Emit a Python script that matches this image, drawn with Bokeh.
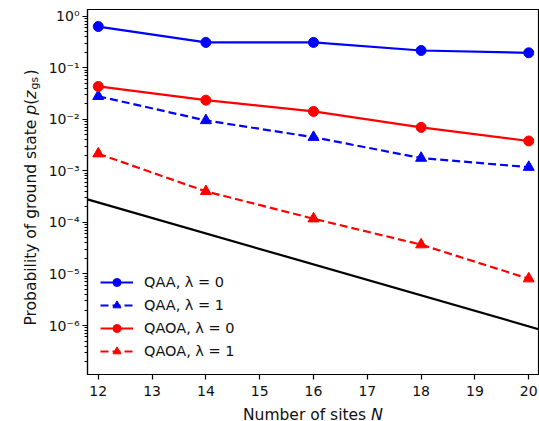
import math
from bokeh.plotting import figure
from bokeh.models import (Range1d, FixedTicker, Label, Legend, LegendItem,
                          CustomJSTickFormatter)
from bokeh.embed import file_html
from bokeh.resources import INLINE

# ---- data ----
sites = [12, 14, 16, 18, 20]
qaa_l0 = [0.63, 0.31, 0.31, 0.216, 0.195]
qaa_l1 = [0.028, 0.0095, 0.0045, 0.00177, 0.00118]
qaoa_l0 = [0.0434, 0.0235, 0.0142, 0.00697, 0.0038]
qaoa_l1 = [0.00215, 0.0004, 0.000118, 3.7e-5, 8.1e-6]
ref_sites = [11.8, 20.2]
ref_prob = [2.8e-4, 8.4e-7]
x_ticks = [12, 13, 14, 15, 16, 17, 18, 19, 20]
y_decades = [-6, -5, -4, -3, -2, -1, 0]
legend_labels = ["QAA, λ = 0", "QAA, λ = 1", "QAOA, λ = 0", "QAOA, λ = 1"]

FONT = "DejaVu Sans"
FS_TICK = 14
FS_LEG = 14.5
FS_T = 15.5

W_FIG, H_FIG = 539, 421
BL, BR, BT, BB = 87, 0, 9, 47
X0, X1 = 11.8, 20.2
LY0, LY1 = -6.95, 0.13

p = figure(width=W_FIG, height=H_FIG, y_axis_type="log",
           x_range=Range1d(X0, X1), y_range=Range1d(10 ** LY0, 10 ** LY1),
           output_backend="svg", toolbar_location=None,
           min_border_left=BL, min_border_right=BR, min_border_top=BT,
           min_border_bottom=BB)
p.background_fill_color = "white"
p.border_fill_color = "white"
p.grid.visible = False
p.outline_line_color = "black"
p.outline_line_width = 1.2

# axes
p.xaxis.ticker = FixedTicker(ticks=x_ticks)
major = [10.0 ** d for d in y_decades]
minor = [m * 10.0 ** d for d in range(-7, 1) for m in range(2, 10)]
p.yaxis.ticker = FixedTicker(ticks=major, minor_ticks=minor)
p.yaxis.formatter = CustomJSTickFormatter(code="""
const e = Math.round(Math.log10(tick));
const sup = {'-':'\u207B','0':'\u2070','1':'\u00B9','2':'\u00B2','3':'\u00B3','4':'\u2074','5':'\u2075','6':'\u2076','7':'\u2077','8':'\u2078','9':'\u2079'};
return '10' + String(e).split('').map(c => sup[c]).join('');
""")
for ax in (p.xaxis[0], p.yaxis[0]):
    ax.axis_line_color = "black"
    ax.axis_line_width = 1.2
    ax.major_tick_in = 0
    ax.major_tick_out = 5
    ax.minor_tick_in = 0
    ax.minor_tick_out = 3
    ax.major_tick_line_width = 1.2
    ax.major_label_text_font = FONT
    ax.major_label_text_font_size = f"{FS_TICK}px"
    ax.major_label_text_color = "#111111"
p.xaxis.major_label_standoff = 6
p.yaxis.major_label_standoff = 3
p.xaxis.minor_tick_line_color = None

# series
p.line(ref_sites, ref_prob, line_color="black", line_width=2.2)
series = [
    (qaa_l0, "blue", "solid", "circle", 10),
    (qaa_l1, "blue", "8 4", "triangle", 11),
    (qaoa_l0, "red", "solid", "circle", 10),
    (qaoa_l1, "red", "8 4", "triangle", 11),
]
items = []
for (vals, col, dash, mk, sz), lab in zip(series, legend_labels):
    rl = p.line(sites, vals, line_color=col, line_width=2.2, line_dash=dash)
    rs = p.scatter(sites, vals, marker=mk, size=sz, fill_color=col, line_color=col)
    items.append(LegendItem(label=lab, renderers=[rl, rs]))

legend = Legend(items=items, location=(13, 13))
legend.background_fill_alpha = 0
legend.border_line_color = None
legend.padding = 0
legend.margin = 0
legend.spacing = 3
legend.glyph_width = 33
legend.glyph_height = 20
legend.label_height = 20
legend.label_standoff = 11
legend.label_text_font = FONT
legend.label_text_font_size = f"{FS_LEG}px"
legend.label_text_color = "#111111"
p.add_layout(legend, "center")

# ---- axis titles: labels in the side panels, placed through the frame scales ----
FW = W_FIG - BL - BR
FH = H_FIG - BT - BB


def cx(px):  # canvas px -> data x
    return X0 + (px - BL) / FW * (X1 - X0)


def cy(py):  # canvas px (from top) -> data y (log axis)
    return 10 ** (LY1 - (py - BT) / FH * (LY1 - LY0))


def lab(text, px, py, size, style, angle, side):
    p.add_layout(Label(x=cx(px), y=cy(py), text=text,
                       angle=angle, text_font=FONT, text_font_size=f"{size}px",
                       text_font_style=style, text_color="#111111",
                       text_align="left", text_baseline="alphabetic"), side)


R = math.pi / 2
lab("Probability of ground state \U0001D631(\U0001D63B", 30.5, 325, FS_T, "normal", R, "left")
lab("gs", 33.5, 89, FS_T * 0.7, "normal", R, "left")
lab(")", 30.5, 75, FS_T, "normal", R, "above")
lab("Number of sites \U0001D615", 242.5, 414, FS_T, "normal", 0.0, "below")

open("out.html", "w").write(file_html(p, INLINE))
